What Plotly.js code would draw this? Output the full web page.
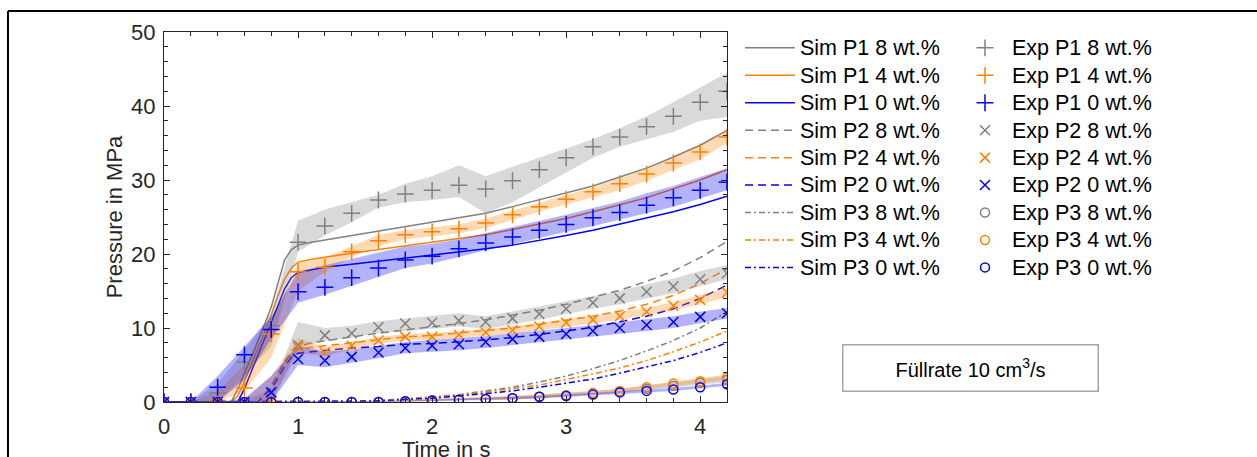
<!DOCTYPE html>
<html>
<head>
<meta charset="utf-8">
<script src="https://cdn.plot.ly/plotly-3.0.1.min.js"></script>
<style>
  html, body { margin: 0; padding: 0; background: #fff; }
  #chart { width: 1257px; height: 457px; }
</style>
</head>
<body>
<div id="chart"></div>
<script>
// Pressure curves at three sensor positions (P1, P2, P3), filling rate 10 cm^3/s
const expTime = [0, 0.2, 0.4, 0.6, 0.8, 1.0, 1.2, 1.4, 1.6, 1.8, 2.0, 2.2, 2.4, 2.6, 2.8, 3.0, 3.2, 3.4, 3.6, 3.8, 4.0, 4.2];
const simTime = [0, 0.2, 0.4, 0.5, 0.55, 0.6, 0.7, 0.8, 0.85, 0.9, 0.95, 1.0, 1.1, 1.2, 1.4, 1.6, 1.8, 2.0, 2.2, 2.4, 2.6, 2.8, 3.0, 3.2, 3.4, 3.6, 3.8, 4.0, 4.2];

// Simulation results (MPa)
const simP1_8 = [0,0,0,0,1.7,3.8,8.2,12.8,16.0,19.2,20.6,21.2,21.6,21.9,22.5,23.1,23.7,24.2,24.8,25.5,26.4,27.3,28.2,29.2,30.4,31.6,33.1,34.7,36.7];
const simP1_4 = [0,0,0,0,0.8,2.8,7.2,11.8,14.4,16.6,18.1,18.9,19.3,19.6,20.1,20.6,21.1,21.5,22.0,22.6,23.3,24.0,24.8,25.7,26.6,27.6,28.8,30.0,31.4];
const simP1_0 = [0,0,0,0,0,1.8,6.2,10.7,13.0,15.3,16.8,17.5,17.9,18.2,18.6,19.0,19.4,19.8,20.2,20.7,21.2,21.8,22.5,23.2,24.0,24.8,25.7,26.7,27.8];
const simP2_8 = [0,0,0,0,0,0,0,2.2,3.8,5.5,6.8,7.5,8.0,8.3,8.8,9.3,9.7,10.1,10.6,11.1,11.7,12.4,13.2,14.1,15.1,16.3,17.7,19.5,21.7];
const simP2_4 = [0,0,0,0,0,0,0,2.0,3.6,5.3,6.6,7.2,7.4,7.6,8.0,8.4,8.8,9.0,9.3,9.6,10.0,10.5,11.0,11.6,12.3,13.2,14.4,16.0,18.0];
const simP2_0 = [0,0,0,0,0,0,0,1.8,3.2,4.8,6.0,6.6,6.8,7.0,7.3,7.5,7.8,7.9,8.1,8.4,8.7,9.1,9.6,10.1,10.8,11.6,12.6,14.0,15.8];
const simP3_8 = [0,0,0,0,0,0,0,0,0,0,0,0,0,0.05,0.1,0.2,0.4,0.7,1.0,1.5,2.0,2.7,3.5,4.5,5.6,6.9,8.3,10.0,12.2];
const simP3_4 = [0,0,0,0,0,0,0,0,0,0,0,0,0,0.05,0.1,0.2,0.35,0.6,0.9,1.3,1.8,2.3,3.0,3.8,4.6,5.6,6.8,8.1,9.6];
const simP3_0 = [0,0,0,0,0,0,0,0,0,0,0,0,0,0.05,0.1,0.15,0.3,0.5,0.8,1.1,1.5,2.0,2.5,3.1,3.9,4.7,5.6,6.7,8.0];

// Experimental mean values (MPa)
const expP1_8 = [0,0,1.2,5.4,10.3,21.6,23.8,25.5,27.3,28.1,28.6,29.3,28.8,29.9,31.4,33.0,34.5,35.8,37.2,38.6,40.5,42.0];
const expP1_4 = [0,0,0.2,1.9,9.2,17.6,18.2,20.3,21.8,22.6,23.0,23.4,24.2,25.3,26.4,27.4,28.4,29.5,30.8,32.3,33.8,35.8];
const expP1_0 = [0,0,2.0,6.4,9.8,14.9,15.5,16.8,18.1,19.2,19.7,20.7,21.5,22.3,23.2,24.0,24.9,25.6,26.6,27.6,28.6,29.7];
const expP2_8 = [0,0,0,0,0.2,7.7,9.0,9.3,10.1,10.6,10.7,11.0,10.8,11.3,11.9,12.6,13.4,14.0,14.9,15.6,16.6,17.4];
const expP2_4 = [0,0,0,0,0.1,7.4,6.7,7.6,8.3,8.8,8.8,9.1,9.4,9.7,10.2,10.7,11.1,11.6,12.2,13.0,13.8,14.8];
const expP2_0 = [0,0,0,0,1.3,5.8,5.6,6.1,6.7,7.3,7.6,7.8,8.1,8.5,8.8,9.2,9.6,10.0,10.4,10.8,11.5,12.0];
const expP3_8 = [0,0,0,0,0,0,0,0,0,0.1,0.2,0.3,0.4,0.5,0.7,0.9,1.2,1.4,1.8,2.2,2.6,3.0];
const expP3_4 = [0,0,0,0,0,0,0,0,0,0.1,0.2,0.3,0.4,0.5,0.7,0.9,1.2,1.5,2.0,2.5,2.8,3.3];
const expP3_0 = [0,0,0,0,0,0,0,0,0,0.1,0.2,0.3,0.4,0.5,0.7,0.8,1.0,1.3,1.5,1.7,2.0,2.4];

// Experimental scatter range (min / max of repeated runs)
const bandP1_8_lo = [0,0,0,3.5,7.5,20.3,22.5,24.3,26.3,27.0,27.3,27.7,25.5,27.0,29.0,31.0,33.0,34.5,35.5,36.5,38.0,38.5];
const bandP1_8_hi = [0,0,2.5,7.0,12.0,24.5,26.0,27.0,28.0,29.5,30.5,32.0,30.5,31.8,33.0,34.3,35.5,37.0,38.6,40.5,42.5,44.5];
const bandP1_4_lo = [0,0,0,1.5,6.0,15.0,17.6,19.6,21.0,22.0,22.4,22.8,23.5,24.6,25.7,26.7,27.7,28.6,29.9,31.3,32.8,35.0];
const bandP1_4_hi = [0,0,1.5,5.0,10.7,18.8,19.5,21.0,22.6,23.2,23.6,24.0,24.8,25.9,27.0,28.0,29.0,30.2,31.5,33.1,34.6,36.8];
const bandP1_0_lo = [0,0,0,3.0,8.5,13.4,14.5,15.6,16.9,18.1,18.7,19.6,20.5,21.3,22.2,23.0,23.8,24.6,25.5,26.4,27.5,28.6];
const bandP1_0_hi = [0,0,3.5,7.5,11.5,17.6,18.5,19.3,20.2,21.0,21.4,22.0,22.8,23.6,24.5,25.3,26.2,27.1,28.2,29.2,30.4,31.6];
const bandP2_8_lo = [0,0,0,0,0,7.2,8.3,8.7,9.3,9.6,9.9,10.2,9.9,10.5,11.1,11.8,12.6,13.2,14.0,14.7,15.7,16.6];
const bandP2_8_hi = [0,0,0,0.3,1.5,10.8,10.0,10.3,10.9,11.3,11.6,12.0,11.6,12.2,12.9,13.6,14.3,15.0,15.9,16.7,17.7,18.5];
const bandP2_4_lo = [0,0,0,0,0,6.6,6.2,7.1,7.8,8.3,8.4,8.6,8.9,9.2,9.7,10.2,10.6,11.1,11.7,12.4,13.2,14.2];
const bandP2_4_hi = [0,0,0,0.2,3.5,8.6,7.4,8.1,8.8,9.2,9.3,9.6,9.9,10.2,10.7,11.2,11.6,12.1,12.7,13.5,14.4,15.4];
const bandP2_0_lo = [0,0,0,0,0,5.0,4.7,5.3,5.9,6.6,6.8,7.0,7.3,7.7,8.0,8.4,8.8,9.2,9.6,10.0,10.7,11.3];
const bandP2_0_hi = [0,0,0,0.5,3.5,7.6,6.8,7.1,7.6,8.1,8.4,8.6,8.9,9.3,9.6,10.0,10.4,10.8,11.2,11.6,12.2,12.7];
const bandP3_8_lo = [0,0,0,0,0,0,0,0,0,0,0.1,0.2,0.3,0.3,0.5,0.7,1.0,1.2,1.5,1.9,2.3,2.7];
const bandP3_8_hi = [0,0,0,0,0,0,0,0,0.1,0.3,0.4,0.5,0.6,0.8,1.0,1.2,1.5,1.8,2.2,2.6,3.0,3.5];
const bandP3_4_lo = [0,0,0,0,0,0,0,0,0,0,0.1,0.2,0.3,0.3,0.5,0.7,1.0,1.3,1.7,2.2,2.5,3.0];
const bandP3_4_hi = [0,0,0,0,0,0,0,0,0.1,0.3,0.4,0.5,0.6,0.8,1.0,1.2,1.5,1.8,2.3,2.8,3.2,3.7];
const bandP3_0_lo = [0,0,0,0,0,0,0,0,0,0,0.1,0.2,0.3,0.4,0.5,0.6,0.8,1.1,1.3,1.5,1.8,2.2];
const bandP3_0_hi = [0,0,0,0,0,0,0,0,0.1,0.2,0.3,0.4,0.5,0.6,0.8,1.0,1.2,1.5,1.7,1.9,2.2,2.6];

const simLabels = ['Sim P1 8 wt.%','Sim P1 4 wt.%','Sim P1 0 wt.%','Sim P2 8 wt.%','Sim P2 4 wt.%','Sim P2 0 wt.%','Sim P3 8 wt.%','Sim P3 4 wt.%','Sim P3 0 wt.%'];
const expLabels = ['Exp P1 8 wt.%','Exp P1 4 wt.%','Exp P1 0 wt.%','Exp P2 8 wt.%','Exp P2 4 wt.%','Exp P2 0 wt.%','Exp P3 8 wt.%','Exp P3 4 wt.%','Exp P3 0 wt.%'];
const xTitle = 'Time in s';
const yTitle = 'Pressure in MPa';
const noteText = 'Füllrate 10 cm<sup>3</sup>/s';

const GRAY = '#808080', ORANGE = '#ff8000', BLUE = '#0000ff';
const colors = [GRAY, ORANGE, BLUE];
const fills = ['rgba(128,128,128,0.3)', 'rgba(255,128,0,0.3)', 'rgba(0,0,255,0.3)'];
const dashes = ['solid', '8px,5px', '6px,3px,2px,3px'];
const symbols = ['cross-thin-open', 'x-thin-open', 'circle-open'];
const symSizes = [12, 10, 9];

const simSeries = [simP1_8, simP1_4, simP1_0, simP2_8, simP2_4, simP2_0, simP3_8, simP3_4, simP3_0];
const expSeries = [expP1_8, expP1_4, expP1_0, expP2_8, expP2_4, expP2_0, expP3_8, expP3_4, expP3_0];
const bandLo = [bandP1_8_lo, bandP1_4_lo, bandP1_0_lo, bandP2_8_lo, bandP2_4_lo, bandP2_0_lo, bandP3_8_lo, bandP3_4_lo, bandP3_0_lo];
const bandHi = [bandP1_8_hi, bandP1_4_hi, bandP1_0_hi, bandP2_8_hi, bandP2_4_hi, bandP2_0_hi, bandP3_8_hi, bandP3_4_hi, bandP3_0_hi];

const FONT = 'Liberation Sans, Arial, Helvetica, sans-serif';
// legend rows keep a compact pitch while the entry text itself is a bit larger
const legendLabel = s => '<span style="font-size:21.5px">' + s + '</span>';
const traces = [];

// simulated curves
simSeries.forEach((ys, i) => {
  const pos = Math.floor(i / 3), c = i % 3;
  traces.push({
    type: 'scatter', mode: 'lines', x: simTime, y: ys, name: legendLabel(simLabels[i]),
    legend: 'legend',
    line: { color: colors[c], width: 1.5, dash: dashes[pos] },
    hoverinfo: 'skip'
  });
});

// shaded scatter range of the measurements
bandLo.forEach((lo, i) => {
  const c = i % 3;
  const hi = bandHi[i];
  traces.push({
    type: 'scatter', mode: 'lines',
    x: expTime.concat(expTime.slice().reverse()),
    y: hi.concat(lo.slice().reverse()),
    fill: 'toself', fillcolor: fills[c],
    line: { width: 0, color: 'rgba(0,0,0,0)' },
    showlegend: false, hoverinfo: 'skip'
  });
});

// measured means
expSeries.forEach((ys, i) => {
  const pos = Math.floor(i / 3), c = i % 3;
  traces.push({
    type: 'scatter', mode: 'markers', x: expTime, y: ys, name: legendLabel(expLabels[i]),
    legend: 'legend2',
    marker: { symbol: symbols[pos], size: symSizes[pos], color: colors[c],
              line: { color: colors[c], width: 1.5 } },
    hoverinfo: 'skip'
  });
});

const axisCol = '#262626';
const layout = {
  width: 1257, height: 457,
  margin: { l: 164, r: 530, t: 32, b: 55 },
  paper_bgcolor: '#ffffff', plot_bgcolor: '#ffffff',
  font: { family: FONT, color: axisCol },
  showlegend: true,
  xaxis: {
    range: [0, 4.2], tick0: 0, dtick: 1, showgrid: false, zeroline: false,
    showline: true, linecolor: axisCol, linewidth: 1, mirror: 'ticks',
    ticks: 'inside', ticklen: 6, tickwidth: 1, tickcolor: axisCol, ticklabelstandoff: 5,
    tickfont: { size: 22, family: FONT, color: axisCol },
    minor: { dtick: 0.2, ticks: 'inside', ticklen: 4, tickcolor: axisCol, showgrid: false }
  },
  yaxis: {
    range: [0, 50], tick0: 0, dtick: 10, showgrid: false, zeroline: false,
    showline: true, linecolor: axisCol, linewidth: 1, mirror: 'ticks',
    ticks: 'inside', ticklen: 6, tickwidth: 1, tickcolor: axisCol, ticklabelstandoff: 3,
    tickfont: { size: 22, family: FONT, color: axisCol },
    minor: { dtick: 2, ticks: 'inside', ticklen: 4, tickcolor: axisCol, showgrid: false },
    title: { text: yTitle, font: { size: 22, family: FONT, color: axisCol }, standoff: 2 }
  },
  legend: {
    x: 1.0231, xanchor: 'left', y: 1.0077, yanchor: 'top', maxheight: 420,
    bgcolor: 'rgba(0,0,0,0)', borderwidth: 0, itemwidth: 50,
    font: { size: 18.8, family: FONT, color: '#000000' }, traceorder: 'normal'
  },
  legend2: {
    x: 1.4103, xanchor: 'left', y: 1.0077, yanchor: 'top', maxheight: 420,
    bgcolor: 'rgba(0,0,0,0)', borderwidth: 0, itemwidth: 44,
    font: { size: 18.8, family: FONT, color: '#000000' }, traceorder: 'normal'
  },
  annotations: [
    {
      // x-axis title, sitting low at the bottom edge of the figure
      xref: 'paper', yref: 'paper', x: 0.5, y: -0.1297, xanchor: 'center', yanchor: 'middle',
      text: xTitle, showarrow: false,
      font: { size: 22, family: FONT, color: axisCol }
    },
    {
      xref: 'paper', yref: 'paper', x: 1.4325, y: 0.0932, xanchor: 'center', yanchor: 'middle',
      text: noteText, showarrow: false, width: 252, height: 43,
      bordercolor: '#a6a6a6', borderwidth: 1.5, borderpad: 1, bgcolor: '#ffffff',
      font: { size: 20, family: FONT, color: '#000000' }
    }
  ],
  shapes: [
    { type: 'line', xref: 'paper', yref: 'paper', x0: -0.2771, x1: -0.2771, y0: -0.3, y1: 1.0568,
      line: { color: '#000000', width: 2 } },
    { type: 'line', xref: 'paper', yref: 'paper', x0: -0.2771, x1: 2.0, y0: 1.0568, y1: 1.0568,
      line: { color: '#000000', width: 2 } }
  ]
};

Plotly.newPlot('chart', traces, layout, { staticPlot: true, displayModeBar: false });
</script>
</body>
</html>
